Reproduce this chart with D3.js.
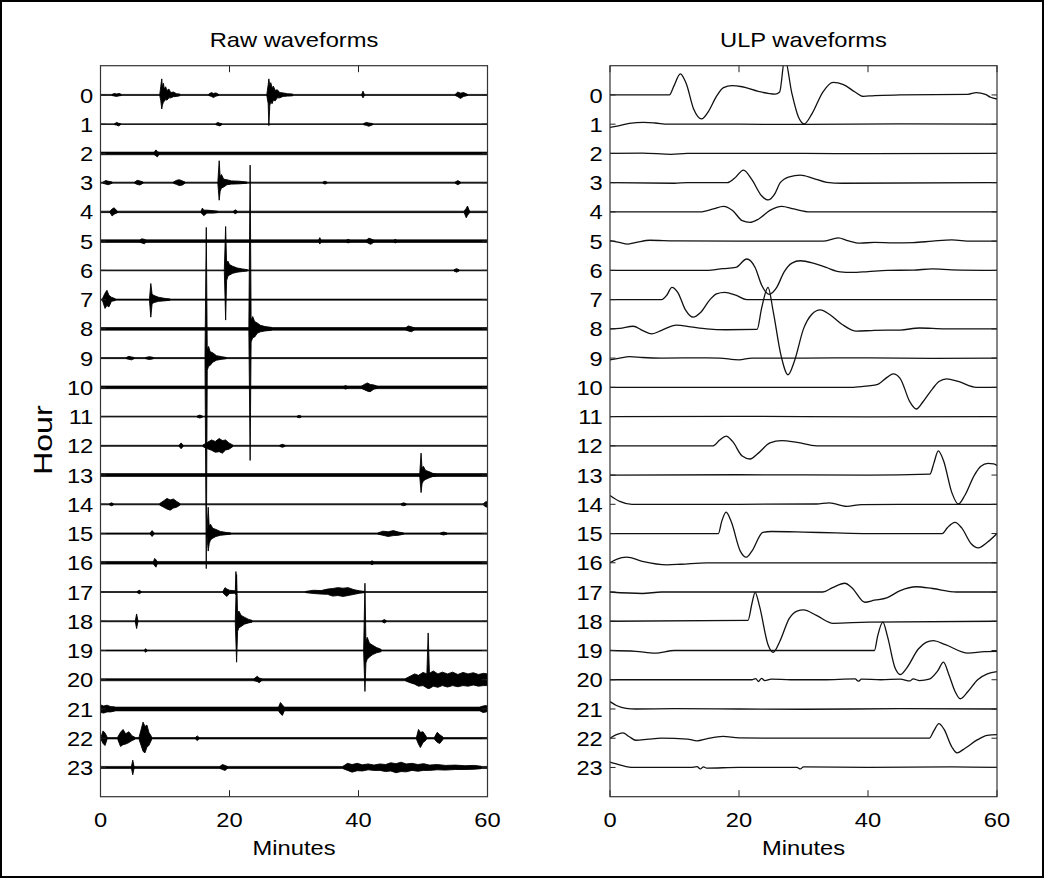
<!DOCTYPE html>
<html>
<head>
<meta charset="utf-8">
<script src="https://cdn.jsdelivr.net/npm/d3@7"></script>
<style>
  body { margin: 0; background: #fff; }
  svg { display: block; }
  text { font-family: "Liberation Sans", Arial, sans-serif; fill: #000; }
</style>
</head>
<body>
<svg id="chart" width="1044" height="878"></svg>
<script>
// ---------- axis labels ----------
const hourLabels = d3.range(24).map(String);
const minuteTicks = [0, 20, 40, 60];
const panelTitles = ["Raw waveforms", "ULP waveforms"];
const xTitle = "Minutes";
const yTitle = "Hour";

// ---------- raw waveforms ----------
// background noise half-amplitude per hour (in trace spacings)
const rawNoise = [0.018, 0.012, 0.045, 0.018, 0.025, 0.045, 0.015, 0.018, 0.045, 0.018, 0.045, 0.015,
                  0.018, 0.05, 0.018, 0.02, 0.045, 0.015, 0.018, 0.018, 0.035, 0.065, 0.025, 0.035];
// bursts: each is a list of [minute, upward envelope, downward envelope]
const raw00 = [
  [[1.8,0.02,0.02],[2.2,0.05,0.04],[2.5,0.03,0.05],[2.9,0.05,0.03],[3.2,0.02,0.02]],
  [[9.2,0.03,0.03],[9.35,0.3,0.2],[9.5,0.55,0.48],[9.6,0.25,0.35],[9.75,0.4,0.25],[9.9,0.2,0.22],[10.1,0.28,0.15],[10.3,0.15,0.18],[10.6,0.2,0.1],[10.9,0.08,0.1],[11.3,0.1,0.06],[11.8,0.04,0.05],[12.3,0.03,0.03]],
  [[16.8,0.03,0.02],[17.2,0.08,0.05],[17.5,0.05,0.09],[17.9,0.07,0.04],[18.3,0.02,0.02]],
  [[25.8,0.04,0.04],[26.0,0.35,0.3],[26.1,0.55,1.05],[26.25,0.3,0.35],[26.4,0.42,0.25],[26.6,0.25,0.3],[26.8,0.3,0.18],[27.1,0.15,0.2],[27.4,0.18,0.1],[27.8,0.08,0.1],[28.3,0.07,0.05],[29.0,0.04,0.04],[29.8,0.03,0.03]],
  [[40.5,0.02,0.02],[40.7,0.13,0.1],[40.9,0.02,0.02]],
  [[55.0,0.02,0.02],[55.4,0.1,0.06],[55.8,0.06,0.12],[56.3,0.08,0.05],[56.9,0.02,0.02]]
];
const raw01 = [
  [[2.2,0.02,0.02],[2.5,0.06,0.03],[2.8,0.03,0.06],[3.1,0.02,0.02]],
  [[17.9,0.02,0.02],[18.2,0.06,0.04],[18.5,0.03,0.06],[18.8,0.02,0.02]],
  [[40.8,0.02,0.02],[41.2,0.06,0.04],[41.6,0.04,0.07],[42.2,0.02,0.02]]
];
const raw02 = [
  [[8.3,0.03,0.03],[8.6,0.12,0.08],[8.8,0.06,0.12],[9.1,0.03,0.03]]
];
const raw03 = [
  [[0.4,0.02,0.02],[0.8,0.07,0.05],[1.2,0.05,0.07],[1.8,0.02,0.02]],
  [[5.3,0.02,0.02],[5.7,0.08,0.06],[6.1,0.06,0.08],[6.6,0.02,0.02]],
  [[11.3,0.02,0.02],[11.8,0.08,0.06],[12.2,0.1,0.1],[12.7,0.06,0.08],[13.1,0.02,0.02]],
  [[18.2,0.04,0.04],[18.4,0.75,0.6],[18.55,0.2,0.3],[18.75,0.28,0.18],[19.1,0.12,0.15],[19.6,0.1,0.07],[20.3,0.06,0.05],[21.5,0.05,0.04],[22.7,0.02,0.02]],
  [[34.5,0.02,0.02],[34.8,0.05,0.05],[35.1,0.02,0.02]],
  [[55.0,0.02,0.02],[55.4,0.07,0.07],[55.8,0.02,0.02]]
];
const raw04 = [
  [[1.5,0.03,0.03],[1.8,0.1,0.14],[2.1,0.14,0.08],[2.6,0.03,0.03]],
  [[15.6,0.03,0.03],[15.8,0.13,0.08],[16.0,0.06,0.13],[16.5,0.06,0.04],[17.5,0.04,0.04],[18.2,0.02,0.02]],
  [[20.6,0.02,0.02],[20.9,0.07,0.06],[21.2,0.02,0.02]],
  [[56.4,0.03,0.03],[56.7,0.12,0.2],[56.9,0.2,0.12],[57.2,0.03,0.03]]
];
const raw05 = [
  [[6.1,0.03,0.03],[6.4,0.08,0.06],[6.8,0.06,0.09],[7.1,0.03,0.03]],
  [[33.8,0.02,0.02],[34.0,0.12,0.1],[34.2,0.02,0.02]],
  [[38.1,0.03,0.03],[38.4,0.06,0.06],[38.7,0.03,0.03]],
  [[41.2,0.03,0.03],[41.6,0.1,0.08],[41.9,0.08,0.11],[42.4,0.03,0.03]],
  [[45.4,0.02,0.02],[45.7,0.06,0.06],[46.0,0.02,0.02]]
];
const raw06 = [
  [[19.2,0.04,0.04],[19.4,1.5,1.7],[19.55,0.25,0.35],[19.75,0.32,0.2],[20.0,0.2,0.16],[20.5,0.14,0.1],[21.2,0.08,0.06],[22.0,0.05,0.04],[22.8,0.02,0.02]],
  [[54.8,0.02,0.02],[55.2,0.06,0.06],[55.6,0.02,0.02]]
];
const raw07 = [
  [[0.3,0.03,0.03],[0.7,0.22,0.3],[1.0,0.32,0.2],[1.3,0.15,0.25],[1.7,0.08,0.06],[2.3,0.03,0.03]],
  [[7.6,0.04,0.04],[7.8,0.55,0.6],[8.0,0.18,0.14],[8.3,0.14,0.1],[9.0,0.08,0.06],[10.0,0.04,0.04],[10.8,0.02,0.02]]
];
const raw08 = [
  [[23.0,0.05,0.05],[23.2,5.6,4.5],[23.35,0.3,0.45],[23.6,0.42,0.3],[23.9,0.25,0.28],[24.3,0.2,0.15],[24.8,0.12,0.1],[25.5,0.08,0.07],[26.5,0.05,0.05]],
  [[47.3,0.03,0.03],[47.7,0.1,0.07],[48.2,0.07,0.1],[48.7,0.03,0.03]]
];
const raw09 = [
  [[4.0,0.02,0.02],[4.4,0.06,0.04],[4.8,0.04,0.06],[5.2,0.02,0.02]],
  [[7.0,0.02,0.02],[7.6,0.05,0.05],[8.2,0.02,0.02]],
  [[16.2,0.05,0.05],[16.4,4.47,7.2],[16.55,0.3,0.42],[16.75,0.4,0.28],[17.0,0.22,0.25],[17.4,0.18,0.14],[18.0,0.08,0.07],[18.8,0.05,0.04],[19.5,0.02,0.02]]
];
const raw10 = [
  [[37.7,0.03,0.03],[38.0,0.06,0.06],[38.3,0.03,0.03]],
  [[40.4,0.03,0.03],[40.9,0.1,0.08],[41.4,0.15,0.13],[41.8,0.1,0.15],[42.4,0.08,0.06],[43.0,0.03,0.03]]
];
const raw11 = [
  [[15.0,0.02,0.02],[15.4,0.05,0.05],[15.8,0.02,0.02]],
  [[30.5,0.02,0.02],[30.8,0.04,0.04],[31.1,0.02,0.02]]
];
const raw12 = [
  [[12.2,0.02,0.02],[12.5,0.1,0.1],[12.8,0.02,0.02]],
  [[15.9,0.03,0.03],[16.6,0.12,0.1],[17.2,0.2,0.15],[17.8,0.15,0.22],[18.4,0.25,0.2],[18.9,0.18,0.25],[19.4,0.2,0.14],[19.9,0.1,0.12],[20.5,0.03,0.03]],
  [[27.8,0.02,0.02],[28.2,0.05,0.05],[28.6,0.02,0.02]]
];
const raw13 = [
  [[49.5,0.05,0.05],[49.7,0.75,0.6],[49.85,0.22,0.3],[50.05,0.3,0.2],[50.4,0.16,0.15],[50.9,0.12,0.1],[51.5,0.06,0.05],[52.1,0.03,0.03]]
];
const raw14 = [
  [[1.4,0.02,0.02],[1.7,0.05,0.05],[2.0,0.02,0.02]],
  [[9.2,0.03,0.03],[9.8,0.12,0.1],[10.3,0.2,0.16],[10.8,0.15,0.2],[11.3,0.18,0.13],[11.8,0.1,0.1],[12.3,0.03,0.03]],
  [[46.6,0.02,0.02],[47.0,0.05,0.05],[47.4,0.02,0.02]],
  [[59.4,0.03,0.03],[59.8,0.1,0.1],[60.0,0.06,0.06]]
];
const raw15 = [
  [[7.7,0.02,0.02],[8.0,0.1,0.1],[8.3,0.02,0.02]],
  [[16.5,0.05,0.05],[16.7,0.9,0.6],[16.85,0.25,0.35],[17.05,0.32,0.22],[17.4,0.18,0.16],[17.9,0.14,0.1],[18.6,0.07,0.06],[19.4,0.04,0.04],[20.2,0.02,0.02]],
  [[43.0,0.02,0.02],[43.8,0.08,0.06],[44.6,0.06,0.1],[45.4,0.1,0.07],[46.2,0.05,0.06],[47.0,0.02,0.02]],
  [[52.7,0.02,0.02],[53.2,0.05,0.05],[53.7,0.02,0.02]]
];
const raw16 = [
  [[8.2,0.03,0.03],[8.4,0.15,0.1],[8.6,0.1,0.15],[8.8,0.03,0.03]],
  [[41.8,0.02,0.02],[42.1,0.07,0.07],[42.4,0.02,0.02]]
];
const raw17 = [
  [[5.7,0.02,0.02],[6.0,0.06,0.06],[6.3,0.02,0.02]],
  [[19.0,0.03,0.03],[19.3,0.15,0.1],[19.6,0.1,0.15],[20.0,0.06,0.05],[20.9,0.04,0.04],[21.0,0.7,0.1],[21.1,0.04,0.04]],
  [[31.8,0.02,0.02],[33.0,0.06,0.05],[34.2,0.05,0.07],[35.2,0.1,0.08],[36.0,0.12,0.14],[36.8,0.15,0.12],[37.6,0.13,0.15],[38.4,0.15,0.12],[39.3,0.08,0.08],[40.2,0.04,0.04],[41.0,0.02,0.02]]
];
const raw18 = [
  [[5.4,0.02,0.02],[5.6,0.25,0.25],[5.8,0.02,0.02]],
  [[20.9,0.05,0.05],[21.1,1.6,1.4],[21.25,0.25,0.35],[21.45,0.35,0.22],[21.8,0.2,0.18],[22.3,0.14,0.1],[22.9,0.07,0.06],[23.5,0.03,0.03]],
  [[43.7,0.02,0.02],[44.0,0.06,0.06],[44.3,0.02,0.02]]
];
const raw19 = [
  [[6.8,0.02,0.02],[7.0,0.06,0.06],[7.2,0.02,0.02]],
  [[40.8,0.05,0.05],[41.0,2.3,1.4],[41.15,0.3,0.42],[41.35,0.45,0.3],[41.7,0.25,0.22],[42.2,0.18,0.14],[42.8,0.1,0.08],[43.5,0.04,0.04]]
];
const raw20 = [
  [[23.8,0.03,0.03],[24.3,0.12,0.06],[24.6,0.06,0.1],[25.0,0.03,0.03]],
  [[47.3,0.04,0.04],[48.0,0.12,0.1],[48.7,0.2,0.15],[49.3,0.15,0.22],[50.0,0.25,0.2],[50.6,0.2,0.28],[50.8,1.6,0.3],[51.0,0.22,0.3],[51.6,0.3,0.22],[52.3,0.2,0.26],[53.0,0.26,0.2],[53.8,0.2,0.25],[54.6,0.26,0.2],[55.4,0.18,0.24],[56.2,0.25,0.2],[57.0,0.2,0.22],[57.8,0.24,0.18],[58.6,0.18,0.22],[59.4,0.22,0.2],[60.0,0.2,0.2]]
];
const raw21 = [
  [[0.0,0.14,0.12],[0.5,0.1,0.14],[1.0,0.13,0.1],[1.6,0.08,0.1],[2.2,0.07,0.07]],
  [[27.6,0.06,0.06],[27.9,0.22,0.16],[28.2,0.14,0.22],[28.5,0.06,0.06]],
  [[58.8,0.06,0.06],[59.3,0.1,0.12],[59.8,0.12,0.1],[60.0,0.08,0.08]]
];
const raw22 = [
  [[0.1,0.05,0.05],[0.4,0.25,0.18],[0.7,0.18,0.25],[1.0,0.05,0.05]],
  [[2.7,0.05,0.05],[3.1,0.2,0.28],[3.5,0.3,0.22],[3.9,0.15,0.2],[4.4,0.22,0.15],[4.9,0.08,0.08],[5.3,0.04,0.04]],
  [[6.0,0.05,0.05],[6.3,0.3,0.25],[6.6,0.55,0.45],[6.9,0.4,0.5],[7.2,0.45,0.3],[7.5,0.2,0.25],[7.9,0.06,0.06]],
  [[14.7,0.02,0.02],[15.0,0.08,0.08],[15.3,0.02,0.02]],
  [[49.0,0.04,0.04],[49.3,0.3,0.2],[49.6,0.2,0.32],[50.0,0.22,0.15],[50.5,0.06,0.06]],
  [[51.8,0.04,0.04],[52.2,0.2,0.14],[52.6,0.12,0.18],[53.1,0.04,0.04]]
];
const raw23 = [
  [[4.8,0.03,0.03],[5.0,0.25,0.25],[5.2,0.03,0.03]],
  [[18.5,0.03,0.03],[18.9,0.1,0.07],[19.3,0.07,0.1],[19.7,0.03,0.03]],
  [[37.6,0.04,0.04],[38.3,0.14,0.1],[39.0,0.1,0.16],[39.8,0.14,0.11],[40.6,0.09,0.12],[41.5,0.12,0.08],[42.4,0.08,0.1],[43.3,0.12,0.1],[44.2,0.1,0.14],[45.0,0.16,0.12],[45.8,0.13,0.18],[46.6,0.18,0.14],[47.4,0.12,0.15],[48.3,0.14,0.1],[49.2,0.1,0.13],[50.1,0.13,0.1],[51.0,0.08,0.1],[52.2,0.1,0.08],[53.5,0.07,0.09],[55.0,0.08,0.07],[56.5,0.06,0.07],[58.0,0.07,0.06],[59.0,0.04,0.04]]
];
const rawBursts = [raw00, raw01, raw02, raw03, raw04, raw05, raw06, raw07, raw08, raw09, raw10, raw11,
                   raw12, raw13, raw14, raw15, raw16, raw17, raw18, raw19, raw20, raw21, raw22, raw23];

// ---------- ULP waveforms: [minute, offset] ----------
const ulp00 = [[0,0],[9.2,0],[9.9,0.3],[10.9,0.72],[11.8,0.4],[13,-0.5],[14.2,-0.82],[15.3,-0.55],[16.5,-0.05],[17.6,0.25],[18.9,0.32],[20.5,0.28],[23,0.12],[25.6,0.03],[26.3,0.1],[27.1,1.25],[28.2,0.05],[29.2,-0.75],[30.1,-0.99],[31.3,-0.65],[33,0.1],[34.6,0.43],[36.2,0.35],[38,0.1],[39.3,-0.05],[41,-0.02],[45,0],[55.5,0.02],[56.8,0.08],[58.2,0.02],[59,-0.08],[60,-0.14]];
const ulp01 = [[0,-0.11],[1.5,-0.05],[3,0.03],[5.2,0.06],[7,0.04],[9,0],[20,0],[30,-0.01],[45,0.01],[60,0]];
const ulp02 = [[0,0],[5,0.01],[9.5,-0.03],[12,0],[30,0],[40,-0.01],[60,0]];
const ulp03 = [[0,0],[10,-0.02],[12,0],[18.2,0],[19.3,0.15],[20.7,0.43],[22,0.1],[23.5,-0.45],[24.5,-0.59],[25.5,-0.4],[26.4,0],[27.8,0.2],[29.5,0.26],[31.5,0.15],[33.6,0.01],[36,-0.02],[60,0]];
const ulp04 = [[0,0],[14,0],[16,0.1],[17.6,0.19],[19,0.05],[20.5,-0.3],[21.7,-0.36],[23,-0.25],[24.8,0.05],[26.6,0.19],[28.5,0.1],[31,0],[60,0]];
const ulp05 = [[0,0.02],[1.2,-0.03],[2.8,-0.1],[4.3,-0.03],[6.2,0.03],[10,0.01],[20,0],[33,0],[35.4,0.11],[36.8,0.02],[38.8,-0.07],[41,-0.04],[44,-0.06],[47,-0.05],[50,0],[53,0.04],[56,0],[60,0]];
const ulp06 = [[0,0],[15,0],[17.5,0.06],[19.5,0.1],[21.2,0.39],[22.5,0.1],[23.5,-0.5],[24.7,-0.82],[25.8,-0.6],[27,-0.05],[28.2,0.25],[29.5,0.33],[31.5,0.25],[33.5,0.1],[35.7,-0.05],[37.5,-0.07],[40,-0.04],[43,0],[47,0.01],[50,0.05],[53,0.02],[60,0]];
const ulp07 = [[0,0],[8,0],[8.8,0.15],[9.6,0.42],[10.5,0.25],[11.7,-0.35],[12.9,-0.6],[14,-0.45],[15.5,0],[16.5,0.2],[17.8,0.25],[19.5,0.15],[21.2,0],[60,0]];
const ulp08 = [[0,0],[1.5,0.02],[3.6,0.09],[5,-0.05],[6.5,-0.17],[8,-0.05],[10.3,0.13],[12.5,0.07],[15,0],[18,-0.03],[22.8,-0.02],[23.5,0.7],[24.5,1.42],[25.3,0.6],[26.5,-0.9],[27.6,-1.57],[28.6,-1.1],[30,0],[31.3,0.5],[32.6,0.65],[34,0.5],[36,0.15],[38.2,-0.08],[41,-0.05],[45,-0.04],[48,0.03],[52,0],[60,0]];
const ulp09 = [[0,-0.06],[1.5,0],[3,0.05],[5,0.02],[8,0],[15,0.01],[17,0],[20,-0.06],[22,0],[30,0],[40,0.01],[50,-0.01],[60,0]];
const ulp10 = [[0,0],[30,0],[37.7,0],[40,0.05],[41.5,0.1],[43,0.35],[43.9,0.46],[45,0.3],[46.5,-0.5],[47.5,-0.74],[48.5,-0.5],[50,-0.05],[51,0.2],[52.2,0.29],[54,0.2],[56.8,0],[60,0]];
const ulp11 = [[0,0],[20,0.01],[40,-0.01],[60,0]];
const ulp12 = [[0,0],[16,0],[17,0.2],[18,0.33],[19,0.15],[20.5,-0.35],[21.7,-0.45],[23,-0.25],[24.8,0.1],[26.6,0.18],[29,0.12],[32,0],[60,0]];
const ulp13 = [[0,0],[20,0.01],[40,0],[49.6,0.03],[50.2,0.4],[50.9,0.83],[51.7,0.5],[53,-0.6],[54,-0.99],[55,-0.7],[56.5,0],[57.5,0.3],[58.6,0.4],[59.5,0.38],[60,0.33]];
const ulp14 = [[0,0.3],[1.5,0.1],[3.4,0],[20,0],[32,0.01],[34,0.05],[36.7,-0.07],[39,-0.01],[45,0],[60,0]];
const ulp15 = [[0,0],[16.8,0],[17.3,0.4],[18,0.73],[18.8,0.4],[20.2,-0.6],[21.1,-0.81],[22,-0.6],[23.7,0.04],[25,0.07],[30,0.05],[35,0.02],[40,0],[51.5,0],[52.3,0.2],[53.5,0.38],[54.5,0.2],[56,-0.35],[57.1,-0.49],[58.5,-0.3],[60,0]];
const ulp16 = [[0,0],[1,0.12],[2.6,0.19],[5,0.05],[8.8,-0.07],[11,-0.05],[15,0],[60,0]];
const ulp17 = [[0,0],[5,-0.05],[8,0],[33,0],[34.5,0.15],[36.4,0.3],[37.5,0.15],[39.5,-0.35],[41,-0.28],[42.9,-0.2],[45,0.05],[47.5,0.18],[50,0.12],[53.7,0],[60,0]];
const ulp18 = [[0,0],[21.4,0.03],[22,0.6],[22.5,0.99],[23.2,0.5],[24.5,-0.8],[25.3,-1.06],[26.3,-0.7],[27.8,0.1],[29,0.35],[30,0.39],[32,0.2],[34.6,-0.07],[40,-0.03],[60,0]];
const ulp19 = [[0,0],[4,-0.03],[7,-0.09],[10,0],[41,0],[41.5,0.5],[42.3,0.97],[43,0.5],[44.2,-0.6],[45,-0.82],[46,-0.6],[47.8,0.05],[49,0.28],[50.1,0.34],[52,0.2],[55.5,-0.09],[58,-0.04],[60,-0.03]];
const ulp20 = [[0,0],[22,0],[22.6,0.04],[23,-0.06],[23.5,0.05],[24,-0.03],[25,0.02],[28,0],[33,0],[38,0.03],[38.5,-0.05],[39,0.02],[42,0],[45,0.02],[46.5,-0.04],[47,0.03],[48,-0.03],[49.5,0.02],[50.8,0.3],[51.7,0.6],[52.5,0.2],[53.5,-0.4],[54.3,-0.65],[55.5,-0.4],[57,0],[58.5,0.2],[60,0.28]];
const ulp21 = [[0,0.25],[1,0.12],[2.5,0.02],[4,0],[10,0.01],[20,0],[30,-0.01],[45,0.01],[60,0]];
const ulp22 = [[0,0],[1,0.12],[2,0.18],[3,0.05],[4,-0.07],[6,-0.03],[8,0],[12,-0.03],[13.5,-0.09],[15,-0.02],[17.5,0.06],[20,0.01],[25,0],[49.5,0],[50.2,0.25],[51,0.5],[51.8,0.3],[53,-0.3],[53.8,-0.5],[55,-0.35],[57,-0.05],[58.5,0.1],[60,0.12]];
const ulp23 = [[0,0.18],[1,0.12],[2.5,0.03],[3.9,0],[12.5,0],[13.5,0.03],[14,-0.05],[14.5,0.02],[15,-0.02],[20,0],[29,0],[29.5,-0.05],[30,0.02],[40,0],[53,0.02],[60,0]];
const ulpTraces = [ulp00, ulp01, ulp02, ulp03, ulp04, ulp05, ulp06, ulp07, ulp08, ulp09, ulp10, ulp11,
                   ulp12, ulp13, ulp14, ulp15, ulp16, ulp17, ulp18, ulp19, ulp20, ulp21, ulp22, ulp23];

// ---------- layout ----------
const W = 1044, H = 878;
const svg = d3.select("#chart");
const textStretch = 1.13;
const fontSize = 21;

svg.append("rect").attr("x", 1).attr("y", 1).attr("width", W - 2).attr("height", H - 2)
  .attr("fill", "#fff").attr("stroke", "#000").attr("stroke-width", 2);

const y = d3.scaleLinear().domain([-1, 24]).range([65.7, 796.7]);
const panels = [
  { left: 100.5, right: 487.5 },
  { left: 610, right: 997 }
];

function drawFrame(g, x, title, idx) {
  const [x0, x1] = x.range();
  const [y0, y1] = y.range();
  const cx = (x0 + x1) / 2;

  // inward ticks
  const tickLen = 6.5;
  minuteTicks.forEach(t => {
    g.append("line").attr("x1", x(t)).attr("x2", x(t)).attr("y1", y1).attr("y2", y1 - tickLen)
      .attr("stroke", "#222").attr("stroke-width", 1);
    g.append("line").attr("x1", x(t)).attr("x2", x(t)).attr("y1", y0).attr("y2", y0 + tickLen)
      .attr("stroke", "#222").attr("stroke-width", 1);
  });
  hourLabels.forEach((lab, i) => {
    g.append("line").attr("x1", x0).attr("x2", x0 + 5.5).attr("y1", y(i)).attr("y2", y(i))
      .attr("stroke", "#222").attr("stroke-width", 1);
    g.append("line").attr("x1", x1).attr("x2", x1 - 5.5).attr("y1", y(i)).attr("y2", y(i))
      .attr("stroke", "#222").attr("stroke-width", 1);
  });

  g.append("rect").attr("x", x0).attr("y", y0).attr("width", x1 - x0).attr("height", y1 - y0)
    .attr("fill", "none").attr("stroke", "#333").attr("stroke-width", 1.2);

  // hour labels
  hourLabels.forEach((lab, i) => {
    g.append("text").attr("transform", `translate(${x0 - 7.2},${y(i)}) scale(${textStretch},1)`)
      .attr("text-anchor", "end").attr("dy", "0.36em").attr("font-size", fontSize).text(lab);
  });
  // minute labels
  minuteTicks.forEach(t => {
    g.append("text").attr("transform", `translate(${x(t)},${826.5}) scale(${textStretch},1)`)
      .attr("text-anchor", "middle").attr("font-size", fontSize).text(String(t));
  });
  g.append("text").attr("transform", `translate(${cx},${855}) scale(${textStretch},1)`)
    .attr("text-anchor", "middle").attr("font-size", fontSize).text(xTitle);
  g.append("text").attr("transform", `translate(${cx},${46.5}) scale(${textStretch},1)`)
    .attr("text-anchor", "middle").attr("font-size", fontSize).text(title);

  if (idx === 0) {
    g.append("text").attr("transform", `translate(51.5,${(y0 + y1) / 2 + 9}) rotate(-90) scale(1.24,1)`)
      .attr("text-anchor", "middle").attr("font-size", 26).text(yTitle);
  }
}

// ---------- raw panel ----------
{
  const p = panels[0];
  const x = d3.scaleLinear().domain([0, 60]).range([p.left, p.right]);
  const g = svg.append("g");
  g.append("clipPath").attr("id", "clipRaw").append("rect")
    .attr("x", p.left).attr("y", y(-1)).attr("width", p.right - p.left).attr("height", y(24) - y(-1));
  const traces = g.append("g").attr("clip-path", "url(#clipRaw)");

  rawBursts.forEach((bursts, h) => {
    const band = d3.area()
      .x(d => x(d))
      .y0(() => y(h + rawNoise[h]))
      .y1(() => y(h - rawNoise[h]));
    traces.append("path").attr("d", band([0, 60])).attr("fill", "#000")
      .attr("stroke", "#000").attr("stroke-width", 0.7);

    const env = d3.area()
      .x(d => x(d[0]))
      .y0(d => y(h + d[2]))
      .y1(d => y(h - d[1]));
    bursts.forEach(b => {
      traces.append("path").attr("d", env(b)).attr("fill", "#000")
        .attr("stroke", "#000").attr("stroke-width", 0.9).attr("stroke-linejoin", "miter");
    });
  });
  drawFrame(g, x, panelTitles[0], 0);
}

// ---------- ULP panel ----------
{
  const p = panels[1];
  const x = d3.scaleLinear().domain([0, 60]).range([p.left, p.right]);
  const g = svg.append("g");
  g.append("clipPath").attr("id", "clipUlp").append("rect")
    .attr("x", p.left).attr("y", y(-1)).attr("width", p.right - p.left).attr("height", y(24) - y(-1));
  const traces = g.append("g").attr("clip-path", "url(#clipUlp)");

  ulpTraces.forEach((pts, h) => {
    const line = d3.line()
      .x(d => x(d[0]))
      .y(d => y(h - d[1]))
      .curve(d3.curveMonotoneX);
    traces.append("path").attr("d", line(pts)).attr("fill", "none")
      .attr("stroke", "#111").attr("stroke-width", 1.3);
  });
  drawFrame(g, x, panelTitles[1], 1);
}
</script>
</body>
</html>
